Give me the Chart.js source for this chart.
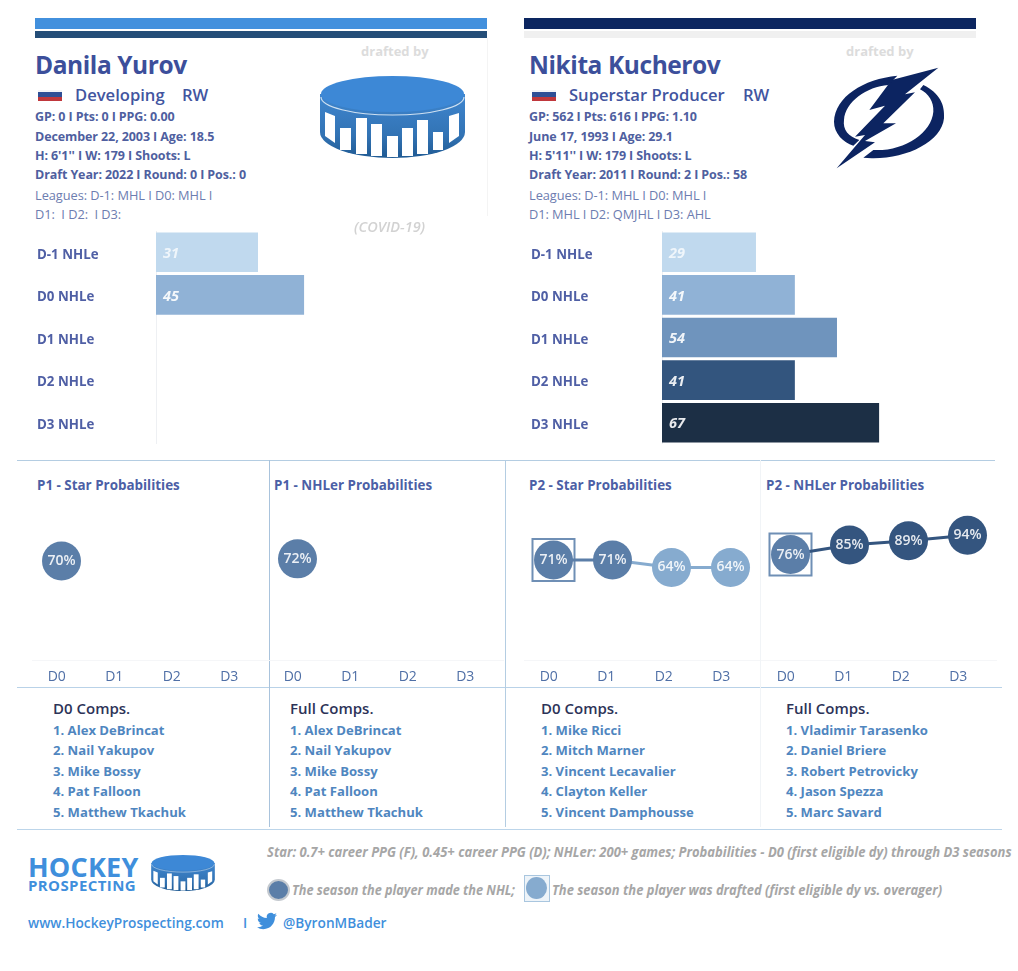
<!DOCTYPE html>
<html>
<head>
<meta charset="utf-8">
<script src="https://cdn.jsdelivr.net/npm/chart.js"></script>
<style>
  html, body { margin: 0; padding: 0; background: #fff; }
  #page { position: relative; width: 1018px; height: 971px; overflow: hidden; font-family: "Open Sans", sans-serif; }
  .abs { position: absolute; }
  .t { position: absolute; white-space: pre; transform: translateY(-50%); line-height: 1; }
  .name { font-size: 24.5px; font-weight: 700; color: #3c4f9b; letter-spacing: -0.42px; }
  .role { font-size: 16.6px; font-weight: 600; color: #42559f; }
  .info { font-size: 12.5px; font-weight: 700; color: #4f5f9f; letter-spacing: -0.1px; }
  .lg { font-size: 12.8px; font-weight: 500; color: #6d7db0; letter-spacing: -0.05px; }
  .drafted { font-size: 13px; font-weight: 700; color: #dcdcdc; }
  .covid { font-size: 14.5px; font-style: italic; font-weight: 600; color: #d2d2d2; }
  .ptitle { font-size: 13.4px; font-weight: 700; color: #4c5fa6; }
  .chead { font-size: 15px; font-weight: 600; color: #2d3358; }
  .comp { font-size: 13.1px; font-weight: 700; color: #4f86bf; }
  .note { font-size: 13.5px; font-style: italic; font-weight: 700; color: #a6a6a6; transform-origin: left center; }
  .hockey { font-size: 27px; font-weight: 700; color: #3f8fdc; letter-spacing: 0.2px; }
  .prospect { font-size: 15px; font-weight: 700; color: #3f8fdc; letter-spacing: 0.4px; }
  .link { font-size: 13.7px; font-weight: 600; color: #3f8fdc; }
</style>
</head>
<body>
<div id="page">
  <svg width="0" height="0" style="position:absolute">
    <defs>
      <linearGradient id="puckSide" x1="0" y1="0" x2="0" y2="1">
        <stop offset="0" stop-color="#3f86cf"/><stop offset="0.65" stop-color="#3273b4"/><stop offset="1" stop-color="#1f5a93"/>
      </linearGradient>
      <symbol id="puck" viewBox="0 0 145 82">
        <path d="M0 18 V56 A72.5 26 0 0 0 145 56 V18 Z" fill="url(#puckSide)"/>
        <ellipse cx="72.5" cy="18" rx="71.5" ry="18" fill="#3d88d6"/>
        <path d="M1 21 A71.5 18 0 0 0 144 21" fill="none" stroke="#cfe1f2" stroke-width="1.2"/>
        <g fill="#fff">
          <path d="M5 36 L15 40 V67 L5 60 Z"/>
          <rect x="20" y="52" width="11" height="22"/>
          <rect x="36" y="42" width="11" height="36"/>
          <rect x="51" y="48" width="11" height="32"/>
          <rect x="67" y="60" width="11" height="21"/>
          <rect x="82" y="52" width="11" height="28"/>
          <rect x="97" y="44" width="11" height="34"/>
          <rect x="113" y="56" width="10" height="18"/>
          <path d="M129 40 L139 37 V60 L129 67 Z"/>
        </g>
      </symbol>
    </defs>
  </svg>

  <!-- header strips -->
  <div class="abs" style="left:35px;top:18px;width:452px;height:11px;background:#4290dd"></div>
  <div class="abs" style="left:35px;top:31px;width:452px;height:7px;background:#254e78"></div>
  <div class="abs" style="left:524px;top:18px;width:452px;height:11px;background:#0c2660"></div>
  <div class="abs" style="left:524px;top:31px;width:452px;height:7px;background:#f0f0f0"></div>
  <div class="abs" style="left:487px;top:38px;width:1px;height:178px;background:#f4f4f4"></div>

  <!-- flags -->
  <div class="abs" style="left:38px;top:90px;width:24px;height:11px;background:linear-gradient(#f4f4f8 0 22%,#2f4f96 22% 60%,#c0373c 60%)"></div>
  <div class="abs" style="left:532px;top:90px;width:24px;height:11px;background:linear-gradient(#f4f4f8 0 22%,#2f4f96 22% 60%,#c0373c 60%)"></div>

  <!-- logos -->
  <svg class="abs" style="left:320px;top:76px" width="145" height="82"><use href="#puck"/></svg>
  <svg class="abs" style="left:820px;top:55px" width="130" height="120" viewBox="0 0 390 360" fill="#0c2461">
    <path d="M355 38 L215 75 L148 165 L195 152 L105 245 L135 240 L50 340 L165 262 L135 258 L228 205 L190 205 L285 112 L255 118 Z"/>
    <path d="M232 62 C130 72 45 125 42 200 C42 235 70 262 100 272 L118 255 C85 245 68 225 72 195 C76 140 140 95 205 90 Z"/>
    <path d="M310 90 C360 115 375 150 372 190 C365 260 260 312 155 310 L130 308 L160 285 C250 290 335 235 340 170 C342 140 325 115 300 103 Z"/>
  </svg>
  <svg class="abs" style="left:151px;top:855px" width="64" height="36"><use href="#puck"/></svg>

  <!-- panel rules -->
  <div class="abs" style="left:17px;top:460px;width:978px;height:1px;background:#b4cde2"></div>
  <div class="abs" style="left:17px;top:687px;width:985px;height:1px;background:#b9d2e8"></div>
  <div class="abs" style="left:17px;top:829px;width:985px;height:1px;background:#bcd5ea"></div>
  <div class="abs" style="left:269px;top:460px;width:1px;height:367px;background:#a9c3dc"></div>
  <div class="abs" style="left:505px;top:460px;width:1px;height:367px;background:#b4cde2"></div>
  <div class="abs" style="left:760px;top:460px;width:1px;height:367px;background:#f1f4f7"></div>

  <!-- charts -->
  <canvas id="barP1" class="abs" width="453" height="213" style="left:37px;top:231px"></canvas>
  <canvas id="barP2" class="abs" width="445" height="213" style="left:531px;top:231px"></canvas>
  <canvas id="lineP1Star" class="abs" width="236" height="190" style="left:32px;top:500px"></canvas>
  <canvas id="lineP1Nhl" class="abs" width="236" height="190" style="left:268px;top:500px"></canvas>
  <canvas id="lineP2Star" class="abs" width="236" height="190" style="left:524px;top:500px"></canvas>
  <canvas id="lineP2Nhl" class="abs" width="236" height="190" style="left:761px;top:500px"></canvas>

  <!-- footer legend marks and bird -->
  <div class="abs" style="left:267px;top:879px;width:19px;height:18px;border-radius:50%;background:#5b7ea8;border:2px solid #c4c9cf"></div>
  <div class="abs" style="left:524px;top:875px;width:24px;height:25px;border:1px solid #a9c6df;background:#eef4f9"></div>
  <div class="abs" style="left:526px;top:877px;width:21px;height:22px;border-radius:50%;background:#86abcf"></div>
  <svg class="abs" style="left:257px;top:911px" width="20" height="20" viewBox="0 0 24 24" fill="#3f8fdc">
    <path d="M23.953 4.57a10 10 0 01-2.825.775 4.958 4.958 0 002.163-2.723c-.951.555-2.005.959-3.127 1.184a4.92 4.92 0 00-8.384 4.482C7.69 8.095 4.067 6.13 1.64 3.162a4.822 4.822 0 00-.666 2.475c0 1.71.87 3.213 2.188 4.096a4.904 4.904 0 01-2.228-.616v.06a4.923 4.923 0 003.946 4.827 4.996 4.996 0 01-2.212.085 4.936 4.936 0 004.604 3.417 9.867 9.867 0 01-6.102 2.105c-.39 0-.779-.023-1.17-.067a13.995 13.995 0 007.557 2.209c9.053 0 13.998-7.496 13.998-13.985 0-.21 0-.42-.015-.63A9.935 9.935 0 0024 4.59z"/>
  </svg>
</div>

<script>
// chart values
const nhleLabels = ['D-1 NHLe', 'D0 NHLe', 'D1 NHLe', 'D2 NHLe', 'D3 NHLe'];
const nhleP1 = [31, 45, null, null, null];
const nhleP2 = [29, 41, 54, 41, 67];
const seasons = ['D0', 'D1', 'D2', 'D3'];
const starP1 = [70, null, null, null];
const nhlerP1 = [72, null, null, null];
const starP2 = [71, 71, 64, 64];
const nhlerP2 = [76, 85, 89, 94];
const draftStarP2 = [71, null, null, null];
const draftNhlerP2 = [76, null, null, null];

// player text
const infoP1 = ['GP: 0 I Pts: 0 I PPG: 0.00', 'December 22, 2003 I Age: 18.5', 'H: 6\'1\'\' I W: 179 I Shoots: L', 'Draft Year: 2022 I Round: 0 I Pos.: 0'];
const leaguesP1 = ['Leagues: D-1: MHL I D0: MHL I', 'D1:  I D2:  I D3:'];
const infoP2 = ['GP: 562 I Pts: 616 I PPG: 1.10', 'June 17, 1993 I Age: 29.1', 'H: 5\'11\'\' I W: 179 I Shoots: L', 'Draft Year: 2011 I Round: 2 I Pos.: 58'];
const leaguesP2 = ['Leagues: D-1: MHL I D0: MHL I', 'D1: MHL I D2: QMJHL I D3: AHL'];
const compsP1D0 = ['Alex DeBrincat', 'Nail Yakupov', 'Mike Bossy', 'Pat Falloon', 'Matthew Tkachuk'];
const compsP1Full = ['Alex DeBrincat', 'Nail Yakupov', 'Mike Bossy', 'Pat Falloon', 'Matthew Tkachuk'];
const compsP2D0 = ['Mike Ricci', 'Mitch Marner', 'Vincent Lecavalier', 'Clayton Keller', 'Vincent Damphousse'];
const compsP2Full = ['Vladimir Tarasenko', 'Daniel Briere', 'Robert Petrovicky', 'Jason Spezza', 'Marc Savard'];

const page = document.getElementById('page');

function addText(text, x, y, cls) {
  const el = document.createElement('div');
  el.className = 't ' + cls;
  el.style.left = x + 'px';
  el.style.top = y + 'px';
  el.textContent = text;
  page.appendChild(el);
  return el;
}

function playerBlock(x, name, role, pos, posX, info, leagues) {
  addText(name, x, 65, 'name');
  addText(role, x + 40, 95, 'role');
  addText(pos, posX, 95, 'role');
  [117, 137, 156, 175].forEach((y, i) => addText(info[i], x, y, 'info'));
  [195, 214].forEach((y, i) => addText(leagues[i], x, y, 'lg'));
}
playerBlock(35, 'Danila Yurov', 'Developing', 'RW', 182, infoP1, leaguesP1);
playerBlock(529, 'Nikita Kucherov', 'Superstar Producer', 'RW', 743, infoP2, leaguesP2);

addText('drafted by', 361, 51, 'drafted');
addText('drafted by', 846, 51, 'drafted');
addText('(COVID-19)', 354, 227, 'covid');

[['P1 - Star Probabilities', 37], ['P1 - NHLer Probabilities', 274], ['P2 - Star Probabilities', 529], ['P2 - NHLer Probabilities', 766]]
  .forEach(p => addText(p[0], p[1], 486, 'ptitle'));

function compColumn(x, head, names) {
  addText(head, x, 708, 'chead');
  [731, 751, 772, 792, 813].forEach((y, i) => addText((i + 1) + '. ' + names[i], x, y, 'comp'));
}
compColumn(53, 'D0 Comps.', compsP1D0);
compColumn(290, 'Full Comps.', compsP1Full);
compColumn(541, 'D0 Comps.', compsP2D0);
compColumn(786, 'Full Comps.', compsP2Full);

function addNote(text, x, y, stretch) {
  addText(text, x, y, 'note').style.transform = 'translateY(-50%) scaleX(' + stretch + ')';
}
addNote('Star: 0.7+ career PPG (F), 0.45+ career PPG (D); NHLer: 200+ games; Probabilities - D0 (first eligible dy) through D3 seasons', 267, 853, 0.963);
addNote('The season the player made the NHL;', 292, 891, 0.94);
addNote('The season the player was drafted (first eligible dy vs. overager)', 552, 891, 0.957);
addText('HOCKEY', 28, 866, 'hockey');
addText('PROSPECTING', 28, 885, 'prospect');
addText('www.HockeyProspecting.com', 28, 923, 'link');
addText('I', 243, 923, 'link');
addText('@ByronMBader', 283, 923, 'link');

// draws the number sitting on each bar / bubble
const valueLabels = {
  id: 'valueLabels',
  afterDatasetsDraw(chart, args, opts) {
    const ctx = chart.ctx;
    const meta = chart.getDatasetMeta(0);
    const values = chart.data.datasets[0].data;
    ctx.save();
    ctx.font = opts.font;
    ctx.textBaseline = 'middle';
    meta.data.forEach((el, i) => {
      if (values[i] == null) return;
      ctx.fillStyle = opts.color;
      if (opts.bars) {
        ctx.textAlign = 'left';
        ctx.fillStyle = i === 0 ? 'rgba(255,255,255,0.75)' : opts.color;
        ctx.fillText(values[i], el.base + 7, el.y + 1.5);
      } else {
        ctx.textAlign = 'center';
        ctx.fillText(values[i] + '%', el.x, el.y);
      }
    });
    ctx.restore();
  }
};

// the row labels sit a little below the bar centres in the picture
const nudgeRowLabels = {
  id: 'nudgeRowLabels',
  beforeDraw(chart) {
    chart.scales.y.getLabelItems().forEach(item => { item.options.translation[1] += 2.5; });
  }
};

const barColors = ['#c0d9ee', '#90b2d6', '#6f94bd', '#33557e', '#1c2f45'];

function barChart(id, values, labelWidth, xMax) {
  return new Chart(document.getElementById(id), {
    type: 'bar',
    data: {
      labels: nhleLabels,
      datasets: [{
        data: values,
        backgroundColor: barColors,
        barPercentage: 0.93,
        categoryPercentage: 1
      }]
    },
    options: {
      indexAxis: 'y',
      responsive: false,
      animation: false,
      layout: { padding: 0, autoPadding: false },
      plugins: {
        legend: { display: false },
        tooltip: { enabled: false },
        valueLabels: { font: 'italic 700 14.5px "Open Sans"', color: 'rgba(255,255,255,0.9)', bars: true }
      },
      scales: {
        x: { display: false, min: 0, max: xMax },
        y: {
          // fixed label column, no extra room above or below the bars
          afterFit(scale) {
            scale.width = labelWidth;
            scale.paddingTop = 0;
            scale.paddingBottom = 0;
          },
          grid: { display: false, drawTicks: false },
          border: { color: '#eef0f3' },
          ticks: { crossAlign: 'far', color: '#4f5fa5', padding: 0, font: { family: '"Open Sans"', size: 13.3, weight: '700' } }
        }
      }
    },
    plugins: [valueLabels, nudgeRowLabels]
  });
}

barChart('barP1', nhleP1, 119, 101.5);
barChart('barP2', nhleP2, 131, 96.9);

function shade(v) {
  if (v >= 80) return '#34557f';
  if (v >= 68) return '#5b7ea8';
  return '#86abcf';
}

function lineChart(id, values, draft) {
  const datasets = [{
    xAxisID: 'xp',
    data: values,
    borderWidth: 3,
    borderColor: '#5b7ea8',
    segment: { borderColor: c => shade(c.p1.parsed.y) },
    pointRadius: 19.5,
    pointBorderWidth: 0,
    pointBackgroundColor: c => shade(c.raw),
    clip: false
  }];
  if (draft) {
    datasets.push({
      xAxisID: 'xp',
      data: draft,
      showLine: false,
      pointStyle: 'rect',
      pointRadius: 29.7,
      pointBorderWidth: 2,
      pointBorderColor: '#6f8fb5',
      pointBackgroundColor: 'rgba(0,0,0,0)',
      clip: false
    });
  }
  return new Chart(document.getElementById(id), {
    type: 'line',
    data: { labels: seasons, datasets: datasets },
    options: {
      responsive: false,
      animation: false,
      layout: { padding: 0, autoPadding: false },
      plugins: {
        legend: { display: false },
        tooltip: { enabled: false },
        valueLabels: { font: '600 14px "Open Sans"', color: 'rgba(255,255,255,0.88)' }
      },
      scales: {
        // bubbles run on a slightly wider spacing than the D0..D3 labels under them
        xp: { type: 'category', axis: 'x', display: false, offset: true },
        x: {
          type: 'linear',
          position: 'bottom',
          min: -0.43,
          max: 3.674,
          afterFit(scale) {
            scale.height = 30;
            scale.paddingLeft = 0;
            scale.paddingRight = 0;
          },
          grid: { display: false, drawTicks: false },
          border: { color: '#f5f6f8' },
          ticks: {
            stepSize: 1,
            includeBounds: false,
            autoSkip: false,
            callback: v => seasons[v],
            color: '#4f6fa6',
            padding: 9,
            maxRotation: 0,
            font: { family: '"Open Sans"', size: 14, weight: '500' }
          }
        },
        y: { display: false, min: -22.5, max: 127 }
      }
    },
    plugins: [valueLabels]
  });
}

lineChart('lineP1Star', starP1);
lineChart('lineP1Nhl', nhlerP1);
lineChart('lineP2Star', starP2, draftStarP2);
lineChart('lineP2Nhl', nhlerP2, draftNhlerP2);
</script>
</body>
</html>
